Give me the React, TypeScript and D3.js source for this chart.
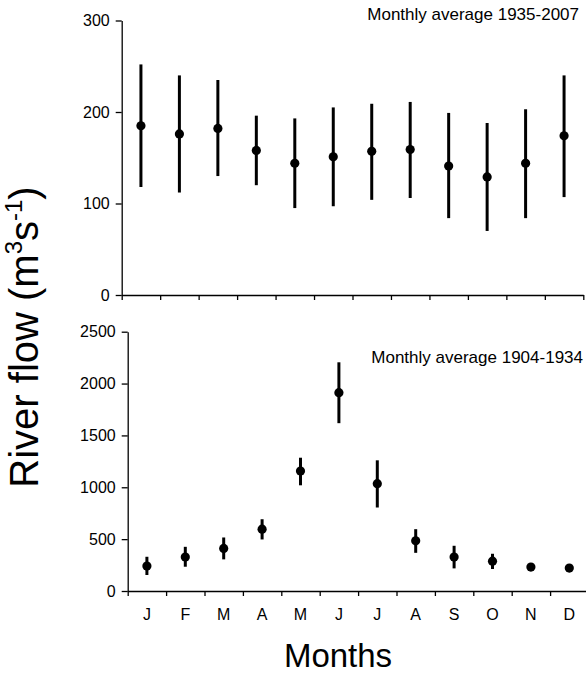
import React, { useEffect, useRef } from "react";
import * as d3 from "d3";

const months = ["J", "F", "M", "A", "M", "J", "J", "A", "S", "O", "N", "D"];

// 1935-2007
const recentMean = [185, 176, 182, 158, 144, 151, 157, 159, 141, 129, 144, 174];
const recentLow = [118, 112, 130, 120, 95, 97, 104, 106, 84, 70, 84, 107];
const recentHigh = [252, 240, 235, 196, 193, 205, 209, 211, 199, 188, 203, 240];
const recentTicks = [0, 100, 200, 300];

// 1904-1934
const earlyMean = [240, 327, 410, 596, 1157, 1912, 1035, 484, 327, 288, 231, 221];
const earlyLow = [154, 234, 305, 497, 1019, 1618, 805, 368, 218, 212, 200, 195];
const earlyHigh = [330, 426, 516, 692, 1285, 2205, 1260, 596, 436, 359, 262, 250];
const earlyTicks = [0, 500, 1000, 1500, 2000, 2500];

const FONT = "'Liberation Sans', Arial, sans-serif";

const Panel = props => {
  const yRef = useRef(null);
  const xRef = useRef(null);

  const x = d3.scaleBand().domain(d3.range(12)).range([props.left, props.right]);
  const xEdge = d3.scaleLinear().domain([0, 12]).range([props.left, props.right]);
  const y = d3.scaleLinear().domain([0, props.yMax]).range([props.bottom, props.top]);

  useEffect(() => {
    const yAxis = d3
      .axisLeft(y)
      .tickValues(props.ticks)
      .tickSize(6)
      .tickSizeOuter(0)
      .tickPadding(6)
      .tickFormat(d3.format("d"));
    const gy = d3.select(yRef.current).call(yAxis);
    gy.selectAll("text").style("font-size", "16px").style("font-family", FONT).attr("fill", "#000");
    gy.selectAll("line, path").attr("stroke", "#000").attr("stroke-width", 1.3);

    const xAxis = d3
      .axisBottom(xEdge)
      .tickValues(d3.range(13))
      .tickSize(5)
      .tickSizeOuter(0)
      .tickFormat(() => "");
    const gx = d3.select(xRef.current).call(xAxis);
    gx.selectAll("line, path").attr("stroke", "#000").attr("stroke-width", 1.3);
  }, []);

  return (
    <g>
      <g ref={yRef} transform={`translate(${props.left},0)`} />
      <g ref={xRef} transform={`translate(0,${props.bottom})`} />
      {props.mean.map((m, i) => (
        <g key={i}>
          <line
            x1={x(i) + x.bandwidth() / 2}
            x2={x(i) + x.bandwidth() / 2}
            y1={y(props.low[i])}
            y2={y(props.high[i])}
            stroke="#000"
            strokeWidth={3}
          />
          <circle cx={x(i) + x.bandwidth() / 2} cy={y(m)} r={4.6} fill="#000" />
        </g>
      ))}
      {props.showLabels &&
        months.map((mo, i) => (
          <text
            key={i}
            x={x(i) + x.bandwidth() / 2}
            y={props.bottom + 29}
            textAnchor="middle"
            fontSize={16}
            fontFamily={FONT}
          >
            {mo}
          </text>
        ))}
      <text
        x={props.captionX}
        y={props.captionY}
        textAnchor="end"
        fontSize={17}
        fontFamily={FONT}
      >
        {props.caption}
      </text>
    </g>
  );
};

const App = () => {
  return (
    <svg
      width={586}
      height={673}
      style={{ position: "absolute", left: 0, top: 0, background: "#fff" }}
    >
      <Panel
        left={121.7}
        right={583.3}
        top={20.5}
        bottom={295}
        yMax={300}
        ticks={recentTicks}
        mean={recentMean}
        low={recentLow}
        high={recentHigh}
        showLabels={false}
        caption="Monthly average 1935-2007"
        captionX={579}
        captionY={20}
      />
      <Panel
        left={127.7}
        right={588.5}
        top={331.7}
        bottom={591}
        yMax={2500}
        ticks={earlyTicks}
        mean={earlyMean}
        low={earlyLow}
        high={earlyHigh}
        showLabels={true}
        caption="Monthly average 1904-1934"
        captionX={583}
        captionY={363}
      />
      <text
        transform="translate(38,337) rotate(-90)"
        textAnchor="middle"
        fontSize={40}
        fontFamily={FONT}
      >
        River flow (m
        <tspan fontSize={24} dy={-16}>3</tspan>
        <tspan dy={16}>s</tspan>
        <tspan fontSize={24} dy={-16}>-1</tspan>
        <tspan dy={16}>)</tspan>
      </text>
      <text x={338} y={667} textAnchor="middle" fontSize={33} fontFamily={FONT}>
        Months
      </text>
    </svg>
  );
};

export default App;
